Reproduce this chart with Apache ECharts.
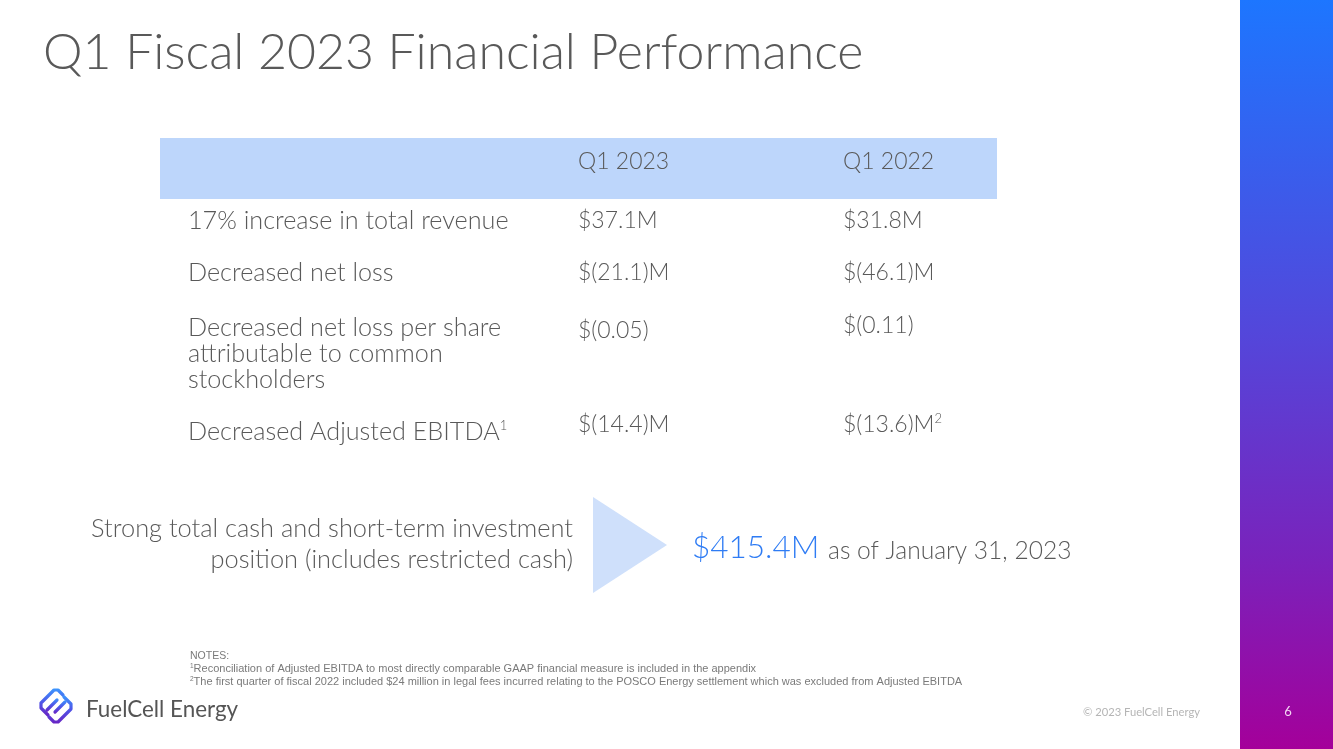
<!DOCTYPE html>
<html>
<head>
<meta charset="utf-8">
<script src="https://cdn.jsdelivr.net/npm/echarts@6/dist/echarts.min.js"></script>
<style>
html,body{margin:0;padding:0;background:#fff;}
#c{width:1333px;height:749px;}
</style>
</head>
<body>
<div id="c"></div>
<script>
// ---- data ----
var titleText = 'Q1 Fiscal 2023 Financial Performance';
var columnHeaders = ['Q1 2023', 'Q1 2022'];
var rowLabels = ['17% increase in total revenue', 'Decreased net loss', 'Decreased net loss per share\nattributable to common\nstockholders', 'Decreased Adjusted EBITDA'];
var labelNotes = ['', '', '', '1'];
var q1_2023 = ['$37.1M', '$(21.1)M', '$(0.05)', '$(14.4)M'];
var q1_2022 = ['$31.8M', '$(46.1)M', '$(0.11)', '$(13.6)M'];
var q1_2022Notes = ['', '', '', '2'];
var cashLabel = 'Strong total cash and short-term investment\nposition (includes restricted cash)';
var cashValue = '$415.4M';
var cashDate = 'as of January 31, 2023';
var notesTitle = 'NOTES:';
var notes = [
  'Reconciliation of Adjusted EBITDA to most directly comparable GAAP financial measure is included in the appendix',
  'The first quarter of fiscal 2022 included $24 million in legal fees incurred relating to the POSCO Energy settlement which was excluded from Adjusted EBITDA'
];
var brand = 'FuelCell Energy';
var copyright = '\u00A9 2023 FuelCell Energy';
var pageNumber = '6';

// ---- layout ----
var FONT = 'Lato, "Open Sans", sans-serif';
var NARROW = '"Liberation Sans Narrow", "Liberation Sans", sans-serif';
var GRAY = '#595959';
var rowY = [221, 273, 328, 432];
var col1Y = [221, 273, 331, 425];
var col2Y = [221, 273, 326, 425];

var g = [];
// right gradient bar
g.push({type:'rect', shape:{x:1240,y:0,width:93,height:749}, style:{fill:new echarts.graphic.LinearGradient(0,0,0,1,[{offset:0,color:'#1D76FF'},{offset:0.45,color:'#5446DA'},{offset:0.75,color:'#7A22BB'},{offset:1,color:'#A4009A'}])}});
g.push({type:'text', x:1288, y:712, style:{text:pageNumber, fill:'#f3d6f3', font:'13px '+FONT, align:'center', verticalAlign:'middle'}});
// title
g.push({type:'text', x:43, y:53, style:{text:titleText, fill:'#595959', font:'300 50px '+FONT, verticalAlign:'middle'}});
// header band
g.push({type:'rect', shape:{x:160,y:138,width:837,height:61}, style:{fill:'#BDD6FB'}});
g.push({type:'text', x:578, y:162, style:{text:columnHeaders[0], fill:GRAY, font:'300 23px '+FONT, verticalAlign:'middle'}});
g.push({type:'text', x:843, y:162, style:{text:columnHeaders[1], fill:GRAY, font:'300 23px '+FONT, verticalAlign:'middle'}});

function richText(main, sup){
  return sup ? '{m|'+main+'}{s|'+sup+'}' : '{m|'+main+'}';
}
function richDef(size){
  return {m:{fontSize:size, fontFamily:FONT, fontWeight:300, fill:GRAY, lineHeight:26}, s:{fontSize:13, fontFamily:FONT, fontWeight:300, fill:GRAY, verticalAlign:'top', lineHeight:26}};
}

rowLabels.forEach(function(lab, i){
  var lines = lab.split('\n');
  if (lines.length > 1) {
    lines.forEach(function(ln, k){
      g.push({type:'text', x:188, y:rowY[i] + k*26, style:{text:ln, fill:GRAY, font:'300 25.2px '+FONT, verticalAlign:'middle'}});
    });
  } else {
    g.push({type:'text', x:188, y:rowY[i], style:{text:richText(lab, labelNotes[i]), rich:richDef(25.2), verticalAlign:'middle'}});
  }
  g.push({type:'text', x:578, y:col1Y[i], style:{text:q1_2023[i], fill:GRAY, font:'300 23px '+FONT, verticalAlign:'middle'}});
  g.push({type:'text', x:843, y:col2Y[i], style:{text:richText(q1_2022[i], q1_2022Notes[i]), rich:richDef(23), verticalAlign:'middle'}});
});

// cash section
cashLabel.split('\n').forEach(function(ln, k){
  g.push({type:'text', x:573, y:529 + k*31, style:{text:ln, fill:GRAY, font:'300 25.4px '+FONT, align:'right', verticalAlign:'middle'}});
});
g.push({type:'polygon', shape:{points:[[593,497],[667,545],[593,593]]}, style:{fill:'#CFE0FB'}});
g.push({type:'text', x:692, y:548, style:{text:cashValue, fill:'#2F7CF4', font:'300 31.5px '+FONT, verticalAlign:'middle'}});
g.push({type:'text', x:828, y:551, style:{text:cashDate, fill:GRAY, font:'300 24.6px '+FONT, verticalAlign:'middle'}});

// notes
g.push({type:'text', x:190, y:656, style:{text:notesTitle, fill:'#7a7a7a', font:'10.5px '+NARROW, verticalAlign:'middle'}});
notes.forEach(function(n, k){
  g.push({type:'text', x:190, y:669 + k*13, style:{text:'{s|'+(k+1)+'}{m|'+n+'}', verticalAlign:'middle', rich:{s:{fontSize:6.5, fontFamily:NARROW, fill:'#7a7a7a', verticalAlign:'top', lineHeight:12}, m:{fontSize:11, fontFamily:NARROW, fill:'#7a7a7a', lineHeight:12}}}});
});

// logo
var logoGrad = new echarts.graphic.LinearGradient(0,0,0,1,[{offset:0,color:'#3A9BFF'},{offset:0.5,color:'#4F55E8'},{offset:1,color:'#6A1FC0'}]);
var logoStyle = {stroke:logoGrad, lineWidth:3.2, fill:null, lineCap:'round', lineJoin:'round'};
g.push({type:'polyline', shape:{points:[[63,695],[58,690],[54,690],[41,703],[41,708],[48,715]]}, style:logoStyle});
g.push({type:'polyline', shape:{points:[[49,717],[54,722],[58,722],[71,709],[71,704],[64,697]]}, style:logoStyle});
g.push({type:'line', shape:{x1:47,y1:710,x2:57,y2:700}, style:logoStyle});
g.push({type:'line', shape:{x1:55,y1:712,x2:65,y2:702}, style:logoStyle});
g.push({type:'text', x:86, y:710, style:{text:brand, fill:'#555', font:'22.4px '+FONT, verticalAlign:'middle'}});
g.push({type:'text', x:1083, y:712, style:{text:copyright, fill:'#b5b5b5', font:'11.2px '+FONT, verticalAlign:'middle'}});

var chart = echarts.init(document.getElementById('c'), null, {renderer:'canvas'});
chart.setOption({
  animation:false,
  backgroundColor:'#ffffff',
  graphic:{elements:g}
});
</script>
</body>
</html>
